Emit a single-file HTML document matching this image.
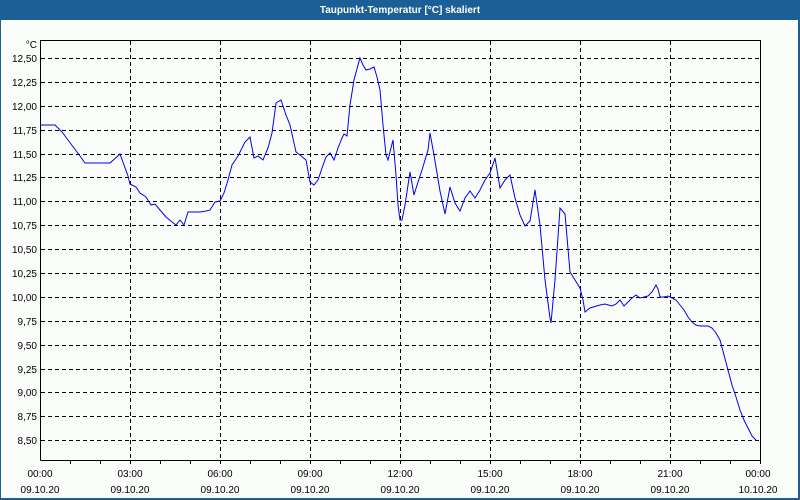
<!DOCTYPE html>
<html><head><meta charset="utf-8"><style>
html,body{margin:0;padding:0;width:800px;height:500px;overflow:hidden;font-family:"Liberation Sans",sans-serif;}
svg{display:block;}
</style></head><body>
<svg width="800" height="500" xmlns="http://www.w3.org/2000/svg" font-family="Liberation Sans, sans-serif" font-size="10">
<rect x="0" y="0" width="800" height="500" fill="#1c5f96"/>
<rect x="1" y="20" width="797" height="478" fill="#fbfdfb"/>
<text x="400" y="13" fill="#fff" font-weight="bold" font-size="10" text-anchor="middle">Taupunkt-Temperatur [°C] skaliert</text>
<g stroke="#000" stroke-dasharray="4,3" stroke-width="1">
<line x1="41" x2="760" y1="58.5" y2="58.5"/><line x1="41" x2="760" y1="82.5" y2="82.5"/><line x1="41" x2="760" y1="106.5" y2="106.5"/><line x1="41" x2="760" y1="130.5" y2="130.5"/><line x1="41" x2="760" y1="154.5" y2="154.5"/><line x1="41" x2="760" y1="177.5" y2="177.5"/><line x1="41" x2="760" y1="201.5" y2="201.5"/><line x1="41" x2="760" y1="225.5" y2="225.5"/><line x1="41" x2="760" y1="249.5" y2="249.5"/><line x1="41" x2="760" y1="273.5" y2="273.5"/><line x1="41" x2="760" y1="297.5" y2="297.5"/><line x1="41" x2="760" y1="321.5" y2="321.5"/><line x1="41" x2="760" y1="345.5" y2="345.5"/><line x1="41" x2="760" y1="369.5" y2="369.5"/><line x1="41" x2="760" y1="392.5" y2="392.5"/><line x1="41" x2="760" y1="416.5" y2="416.5"/><line x1="41" x2="760" y1="440.5" y2="440.5"/>
<line y1="41" y2="460" x1="130.5" x2="130.5"/><line y1="41" y2="460" x1="220.5" x2="220.5"/><line y1="41" y2="460" x1="310.5" x2="310.5"/><line y1="41" y2="460" x1="400.5" x2="400.5"/><line y1="41" y2="460" x1="490.5" x2="490.5"/><line y1="41" y2="460" x1="580.5" x2="580.5"/><line y1="41" y2="460" x1="670.5" x2="670.5"/>
</g>
<polyline fill="none" stroke="#000" stroke-width="1" points="40.5,460.5 40.5,40.5 760.5,40.5 760.5,460.5 40.5,460.5"/>
<g stroke="#000"><line x1="70.5" x2="70.5" y1="460" y2="464"/><line x1="100.5" x2="100.5" y1="460" y2="464"/><line x1="130.5" x2="130.5" y1="460" y2="464"/><line x1="160.5" x2="160.5" y1="460" y2="464"/><line x1="190.5" x2="190.5" y1="460" y2="464"/><line x1="220.5" x2="220.5" y1="460" y2="464"/><line x1="250.5" x2="250.5" y1="460" y2="464"/><line x1="280.5" x2="280.5" y1="460" y2="464"/><line x1="310.5" x2="310.5" y1="460" y2="464"/><line x1="340.5" x2="340.5" y1="460" y2="464"/><line x1="370.5" x2="370.5" y1="460" y2="464"/><line x1="400.5" x2="400.5" y1="460" y2="464"/><line x1="430.5" x2="430.5" y1="460" y2="464"/><line x1="460.5" x2="460.5" y1="460" y2="464"/><line x1="490.5" x2="490.5" y1="460" y2="464"/><line x1="520.5" x2="520.5" y1="460" y2="464"/><line x1="550.5" x2="550.5" y1="460" y2="464"/><line x1="580.5" x2="580.5" y1="460" y2="464"/><line x1="610.5" x2="610.5" y1="460" y2="464"/><line x1="640.5" x2="640.5" y1="460" y2="464"/><line x1="670.5" x2="670.5" y1="460" y2="464"/><line x1="700.5" x2="700.5" y1="460" y2="464"/><line x1="730.5" x2="730.5" y1="460" y2="464"/><line x1="760.5" x2="760.5" y1="460" y2="464"/></g>
<g text-anchor="end" fill="#000">
<text x="37" y="48">°C</text>
<text x="37" y="62">12,50</text><text x="37" y="86">12,25</text><text x="37" y="110">12,00</text><text x="37" y="134">11,75</text><text x="37" y="158">11,50</text><text x="37" y="181">11,25</text><text x="37" y="205">11,00</text><text x="37" y="229">10,75</text><text x="37" y="253">10,50</text><text x="37" y="277">10,25</text><text x="37" y="301">10,00</text><text x="37" y="325">9,75</text><text x="37" y="349">9,50</text><text x="37" y="373">9,25</text><text x="37" y="396">9,00</text><text x="37" y="420">8,75</text><text x="37" y="444">8,50</text>
</g>
<g text-anchor="middle" fill="#000">
<text x="40" y="477">00:00</text><text x="40" y="493">09.10.20</text>
<text x="130" y="477">03:00</text><text x="130" y="493">09.10.20</text>
<text x="220" y="477">06:00</text><text x="220" y="493">09.10.20</text>
<text x="310" y="477">09:00</text><text x="310" y="493">09.10.20</text>
<text x="400" y="477">12:00</text><text x="400" y="493">09.10.20</text>
<text x="490" y="477">15:00</text><text x="490" y="493">09.10.20</text>
<text x="580" y="477">18:00</text><text x="580" y="493">09.10.20</text>
<text x="670" y="477">21:00</text><text x="670" y="493">09.10.20</text>
<text x="758" y="477">00:00</text><text x="758" y="493">10.10.20</text>
</g>
<polyline fill="none" stroke="#0000ee" stroke-width="1" points="40,125 55,125 57,127 62,132 68,140 74,148 80,156 85,163 110,163 120,154 128,176 130,184 136,187 140,193 146,197 151,205 155,204 160,210 166,217 172,222 176,225 180,220 184,225 188,212 200,212 206,211 210,210 215,202 220,201 224,193 228,180 232,165 238,156 245,142 250,137 254,158 258,156 263,160 268,148 272,133 276,103 281,100 286,115 290,125 296,152 300,155 306,160 310,182 314,185 318,180 322,168 326,157 330,153 334,160 338,148 342,138 344,134 347,136 350,105 354,80 358,65 360,58 363,65 366,70 370,69 374,67 377,77 380,90 383,125 386,155 388,160 391,148 393,140 396,175 398,205 400,220 402,220 405,205 410,172 414,195 418,182 422,170 428,150 430,133 434,155 440,191 445,214 450,187 455,203 460,211 465,198 470,191 475,198 480,190 485,180 490,173 495,158 500,188 505,180 510,175 515,198 520,215 525,226 530,221 535,190 540,225 545,280 550,318 551,323 555,280 560,208 565,214 570,272 580,288 583,300 585,312 590,308 600,305 605,304 612,306 616,304 620,300 624,306 628,302 632,298 636,295 640,298 644,297 648,296 652,292 656,285 658,289 660,297 664,297 668,296 672,298 676,300 680,305 684,310 688,317 692,322 696,325 700,326 708,326 712,328 716,333 720,340 724,355 728,370 732,385 736,397 740,410 744,420 748,428 752,436 756,440"/>
</svg>
</body></html>
